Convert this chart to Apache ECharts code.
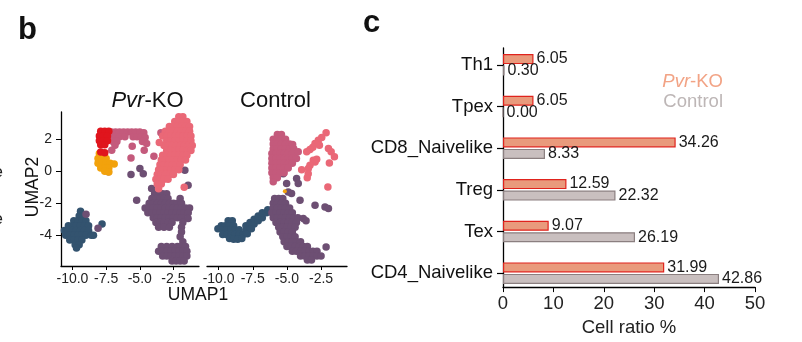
<!DOCTYPE html>
<html><head><meta charset="utf-8">
<script src="https://cdn.jsdelivr.net/npm/echarts@6/dist/echarts.min.js"></script>
<style>html,body{margin:0;padding:0;background:#fff}#c{width:802px;height:342px}</style>
</head><body><div id="c"></div>
<script>
// ---------- Panel c: bar chart data ----------
const categories = ['Th1', 'Tpex', 'CD8_Naivelike', 'Treg', 'Tex', 'CD4_Naivelike'];
const koValues = [6.05, 6.05, 34.26, 12.59, 9.07, 31.99];
const ctrlValues = [0.30, 0.00, 8.33, 22.32, 26.19, 42.86];
const barTicks = [0, 10, 20, 30, 40, 50];

// ---------- Panel b: UMAP tick labels ----------
const umapXTicks = [-10, -7.5, -5, -2.5];
const umapYTicks = [-4, -2, 0, 2];

// ---------- Panel b: Pvr-KO points (UMAP1, UMAP2) ----------
const koBlue = [[-9.4,-2.5],[-9.5,-2.8],[-9.2,-2.8],[-9.9,-3.1],[-9.6,-3.1],[-9.3,-3.1],[-9.0,-3.1],
[-10.3,-3.4],[-10.0,-3.4],[-9.7,-3.4],[-9.4,-3.4],[-9.1,-3.4],[-8.8,-3.4],
[-10.6,-3.7],[-10.3,-3.7],[-10.0,-3.7],[-9.7,-3.7],[-9.4,-3.7],[-9.1,-3.7],[-8.8,-3.7],
[-10.5,-4.0],[-10.2,-4.0],[-9.9,-4.0],[-9.6,-4.0],[-9.3,-4.0],[-9.0,-4.0],[-8.6,-4.0],
[-10.2,-4.3],[-9.9,-4.3],[-9.6,-4.3],[-9.3,-4.3],[-9.8,-4.6],[-9.5,-4.6],[-9.7,-4.8],
[-8.44,-4.0],[-7.8,-3.3]];
const koPurple = [[-3.9,-1.4],[-3.6,-1.4],[-3.3,-1.4],[-3.0,-1.4],
[-4.1,-1.7],[-3.8,-1.7],[-3.5,-1.7],[-3.2,-1.7],[-2.9,-1.7],[-2.0,-1.7],
[-4.3,-2.0],[-4.0,-2.0],[-3.7,-2.0],[-3.4,-2.0],[-3.1,-2.0],[-2.8,-2.0],[-2.5,-2.0],[-2.2,-2.0],[-1.9,-2.0],
[-4.6,-2.3],[-4.3,-2.3],[-4.0,-2.3],[-3.7,-2.3],[-3.4,-2.3],[-3.1,-2.3],[-2.8,-2.3],[-2.5,-2.3],[-2.2,-2.3],[-1.9,-2.3],[-1.6,-2.3],[-1.3,-2.3],
[-4.4,-2.6],[-4.1,-2.6],[-3.8,-2.6],[-3.5,-2.6],[-3.2,-2.6],[-2.9,-2.6],[-2.6,-2.6],[-2.3,-2.6],[-2.0,-2.6],[-1.7,-2.6],[-1.4,-2.6],
[-4.0,-2.9],[-3.7,-2.9],[-3.4,-2.9],[-3.1,-2.9],[-2.8,-2.9],[-2.5,-2.9],[-2.2,-2.9],[-1.9,-2.9],[-1.41,-2.96],
[-3.8,-3.2],[-3.5,-3.2],[-3.2,-3.2],[-2.9,-3.2],[-2.6,-3.2],[-1.8,-3.2],
[-3.6,-3.5],[-3.2,-3.5],[-2.8,-3.5],[-1.9,-3.5],[-1.9,-3.8],[-2.0,-4.1],[-1.8,-4.4],
[-3.4,-4.7],[-3.0,-4.7],[-2.6,-4.7],[-2.2,-4.7],[-1.9,-4.7],[-1.6,-4.7],
[-3.6,-5.0],[-3.3,-5.0],[-3.0,-5.0],[-2.7,-5.0],[-2.4,-5.0],[-2.1,-5.0],[-1.8,-5.0],[-1.5,-5.0],
[-3.3,-5.3],[-3.0,-5.3],[-2.7,-5.3],[-2.4,-5.3],[-2.1,-5.3],[-1.8,-5.3],[-1.5,-5.3],
[-2.6,-5.6],[-2.3,-5.6],[-2.0,-5.6],[-1.7,-5.6],
[-5.23,-1.81],[-4.12,-1.08],[-1.41,-0.87],[-1.65,0.06],[-4.99,0.17],[-4.74,-0.15],[-5.65,-0.2],[-7.33,-0.04],[-8.99,-2.69],[-8.1,-3.56]];
const koMauve = [[-7.1,2.45],[-6.8,2.45],[-6.5,2.45],[-6.2,2.45],[-5.9,2.45],[-5.6,2.45],[-5.3,2.45],[-5.0,2.45],[-4.7,2.4],
[-7.1,2.15],[-6.8,2.15],[-6.5,2.15],[-6.1,2.15],[-5.5,2.15],[-5.2,2.15],[-4.9,2.15],[-4.6,2.1],
[-7.0,1.85],[-6.7,1.85],[-4.8,1.85],
[-6.84,1.62],[-5.56,1.56],[-4.67,1.31],[-5.65,0.83],[-3.95,0.94],[-4.49,1.73],[-3.43,2.4],[-7.08,1.31]];
const koPink = [[-2.1,3.4],[-1.8,3.4],
[-2.4,3.1],[-2.1,3.1],[-1.8,3.1],[-1.5,3.1],
[-2.8,2.8],[-2.5,2.8],[-2.2,2.8],[-1.9,2.8],[-1.6,2.8],[-1.3,2.8],
[-3.1,2.5],[-2.8,2.5],[-2.5,2.5],[-2.2,2.5],[-1.9,2.5],[-1.6,2.5],[-1.3,2.5],
[-3.3,2.2],[-3.0,2.2],[-2.7,2.2],[-2.4,2.2],[-2.1,2.2],[-1.8,2.2],[-1.5,2.2],[-1.2,2.2],
[-3.0,1.9],[-2.7,1.9],[-2.4,1.9],[-2.1,1.9],[-1.8,1.9],[-1.5,1.9],[-1.2,1.9],
[-3.2,1.6],[-2.9,1.6],[-2.6,1.6],[-2.3,1.6],[-2.0,1.6],[-1.7,1.6],[-1.4,1.6],[-1.1,1.6],
[-3.0,1.3],[-2.7,1.3],[-2.4,1.3],[-2.1,1.3],[-1.8,1.3],[-1.5,1.3],[-1.2,1.3],
[-3.3,1.0],[-3.0,1.0],[-2.7,1.0],[-2.4,1.0],[-2.1,1.0],[-1.8,1.0],[-1.5,1.0],
[-3.4,0.7],[-3.1,0.7],[-2.8,0.7],[-2.5,0.7],[-2.2,0.7],[-1.9,0.7],[-1.6,0.7],
[-3.5,0.4],[-3.2,0.4],[-2.9,0.4],[-2.6,0.4],[-2.3,0.4],[-2.0,0.4],
[-3.6,0.1],[-3.3,0.1],[-3.0,0.1],[-2.7,0.1],[-2.4,0.1],[-2.1,0.1],
[-3.7,-0.2],[-3.4,-0.2],[-3.1,-0.2],[-2.8,-0.2],[-2.5,-0.2],
[-3.8,-0.5],[-3.5,-0.5],[-3.2,-0.5],[-2.9,-0.5],[-3.7,-0.8],[-3.4,-0.8],[-3.6,-1.1],
[-3.55,1.8],[-1.7,-1.0]];
const koOrange = [[-8.0,1.1],[-7.7,1.05],[-8.1,0.8],[-7.8,0.8],[-7.5,0.8],[-8.1,0.5],[-7.8,0.5],[-7.5,0.5],[-7.2,0.5],[-6.9,0.45],
[-7.9,0.2],[-7.6,0.2],[-7.3,0.2],[-7.6,0.0],[-7.3,-0.05]];
const koRed = [[-7.9,2.5],[-7.6,2.5],[-7.3,2.5],[-8.0,2.2],[-7.7,2.2],[-7.4,2.2],[-8.0,1.9],[-7.7,1.9],[-7.4,1.9],
[-7.9,1.65],[-7.6,1.65],[-7.9,1.2],[-7.6,1.15]];

// ---------- Panel b: Control points ----------
const ctrlBlue = [[-9.3,-3.1],[-9.0,-3.1],[-9.8,-3.4],[-9.5,-3.4],[-9.2,-3.4],[-8.9,-3.4],
[-10.05,-3.6],[-9.7,-3.65],[-9.4,-3.65],[-9.1,-3.65],[-8.8,-3.65],[-8.5,-3.65],
[-9.7,-3.95],[-9.4,-3.95],[-9.1,-3.95],[-8.8,-3.95],[-8.5,-3.95],[-8.2,-3.95],
[-9.2,-4.2],[-8.9,-4.25],[-8.6,-4.25],[-8.3,-4.2],
[-8.0,-3.7],[-8.0,-3.4],[-7.7,-3.5],[-7.7,-3.2],[-7.4,-3.3],[-7.4,-3.0],[-7.1,-3.1],[-7.1,-2.8],
[-6.8,-2.9],[-6.8,-2.6],[-6.5,-2.6],[-6.4,-2.4],[-7.9,-3.9],[-7.6,-3.6]];
const ctrlPurple = [[-5.27,-0.15],[-4.29,-0.46],[-4.17,-0.77],[-5.02,-0.77],[-4.9,-1.29],[-4.66,-1.39],[-4.04,-1.81],
[-5.9,-1.7],[-5.6,-1.7],[-5.3,-1.7],[-6.0,-2.0],[-5.7,-2.0],[-5.4,-2.0],[-5.1,-2.0],
[-6.0,-2.3],[-5.7,-2.3],[-5.4,-2.3],[-5.1,-2.3],[-4.8,-2.3],
[-6.1,-2.6],[-5.8,-2.6],[-5.5,-2.6],[-5.2,-2.6],[-4.9,-2.6],[-4.6,-2.6],
[-6.0,-2.9],[-5.7,-2.9],[-5.4,-2.9],[-5.1,-2.9],[-4.8,-2.9],[-4.5,-2.9],[-4.2,-2.9],[-3.8,-2.95],
[-5.8,-3.2],[-5.5,-3.2],[-5.2,-3.2],[-4.9,-3.2],[-4.6,-3.2],[-4.3,-3.2],[-3.6,-3.1],
[-5.6,-3.5],[-5.3,-3.5],[-5.0,-3.5],[-4.7,-3.5],[-4.4,-3.5],
[-5.5,-3.8],[-5.2,-3.8],[-4.9,-3.8],[-4.6,-3.8],
[-5.3,-4.1],[-5.0,-4.1],[-4.7,-4.1],[-4.4,-4.1],
[-5.2,-4.4],[-4.9,-4.4],[-4.6,-4.4],[-4.3,-4.4],[-4.0,-4.4],
[-5.0,-4.7],[-4.7,-4.7],[-4.4,-4.7],[-4.1,-4.7],[-3.8,-4.7],[-3.5,-4.7],
[-4.6,-5.0],[-4.3,-5.0],[-4.0,-5.0],[-3.7,-5.0],[-3.4,-5.0],[-3.1,-5.0],[-2.8,-5.0],
[-4.0,-5.3],[-3.7,-5.3],[-3.4,-5.3],[-3.1,-5.3],[-2.8,-5.3],[-2.5,-5.3],
[-3.5,-5.55],[-3.2,-5.55],
[-2.94,-2.13],[-2.21,-2.23],[-1.96,-2.33],[-2.13,-4.73]];
const ctrlMauve = [[-5.7,2.3],[-5.4,2.3],[-6.0,2.0],[-5.7,2.0],[-5.4,2.0],[-5.1,2.0],
[-6.0,1.7],[-5.7,1.7],[-5.4,1.7],[-5.1,1.7],[-4.8,1.7],
[-6.0,1.4],[-5.7,1.4],[-5.4,1.4],[-5.1,1.4],[-4.8,1.4],[-4.5,1.4],
[-6.1,1.1],[-5.8,1.1],[-5.5,1.1],[-5.2,1.1],[-4.9,1.1],[-4.6,1.1],
[-6.1,0.8],[-5.8,0.8],[-5.5,0.8],[-5.2,0.8],[-4.9,0.8],[-4.6,0.8],[-4.3,0.8],
[-6.1,0.5],[-5.8,0.5],[-5.5,0.5],[-5.2,0.5],[-4.9,0.5],[-4.6,0.5],
[-6.1,0.2],[-5.8,0.2],[-5.5,0.2],[-5.2,0.2],[-4.9,0.2],
[-6.1,-0.1],[-5.8,-0.1],[-5.5,-0.1],[-5.2,-0.1],
[-6.0,-0.4],[-5.7,-0.4],[-6.0,-0.65],[-4.17,1.21],[-4.58,1.67]];
const ctrlPink = [[-2.13,2.4],[-2.45,2.1],[-2.7,1.94],[-2.94,1.73],[-2.62,1.62],[-3.1,1.5],[-3.31,1.36],[-3.55,1.21],
[-1.96,1.42],[-1.76,1.21],[-1.52,0.9],[-1.89,0.52],[-2.94,0.58],[-3.07,0.69],[-2.82,0.75],
[-3.31,0.37],[-3.43,0.17],[-3.92,0.1],[-3.44,-0.15],[-3.51,-0.4],[-2.0,-0.98]];
const ctrlOrange = [[-5.15,-1.25]];

// ---------- styling ----------
const COL = {blue:'#33536f', purple:'#6d4f73', mauve:'#c45a7c', pink:'#ea6877', orange:'#f2a20c', red:'#e0151d'};
const FONT = 'Liberation Sans, Arial, sans-serif';
const X_RANGE = [-10.85, -0.6];
const Y_RANGE = [-5.92, 3.7];

function scat(data, color, xi, size) {
  return {type:'scatter', xAxisIndex:xi, yAxisIndex:xi, data:data, symbolSize:size||7.5,
    itemStyle:{color:color, opacity:1}, silent:true, animation:false};
}
function umapX(gi) {
  return {type:'value', gridIndex:gi, min:X_RANGE[0], max:X_RANGE[1], splitLine:{show:false},
    axisLine:{show:true, onZero:false, lineStyle:{color:'#000', width:1.3}},
    axisTick:{show:true, length:4, customValues:umapXTicks, lineStyle:{color:'#000'}},
    axisLabel:{customValues:umapXTicks, formatter:v=>Number(v).toFixed(1), fontSize:14, color:'#222', fontFamily:FONT, margin:6}};
}

const chart = echarts.init(document.getElementById('c'), null, {renderer:'canvas'});
chart.setOption({
  animation:false,
  backgroundColor:'#fff',
  grid:[
    {left:61, top:112, width:138, height:154},
    {left:207, top:112, width:140, height:154},
    {left:503, top:44, width:252, height:250},
    {left:503, top:48, width:252, height:242}
  ],
  xAxis:[
    umapX(0), umapX(1),
    {type:'value', gridIndex:2, min:0, max:50, show:false},
    {type:'value', gridIndex:3, min:0, max:50, interval:10, splitLine:{show:false},
      axisLine:{show:true, onZero:false, lineStyle:{color:'#000', width:1.3}},
      axisTick:{show:true, length:5, lineStyle:{color:'#000'}},
      axisLabel:{fontSize:18.5, color:'#222', fontFamily:FONT, margin:7,
        customValues:barTicks},
      name:'Cell ratio %', nameLocation:'middle', nameGap:27,
      nameTextStyle:{fontSize:18.5, color:'#222', fontFamily:FONT}}
  ],
  yAxis:[
    {type:'value', gridIndex:0, min:Y_RANGE[0], max:Y_RANGE[1], splitLine:{show:false},
      axisLine:{show:true, onZero:false, lineStyle:{color:'#000', width:1.3}},
      axisTick:{show:true, length:5, customValues:umapYTicks, lineStyle:{color:'#000'}},
      axisLabel:{customValues:umapYTicks, fontSize:14, color:'#222', fontFamily:FONT, margin:9}},
    {type:'value', gridIndex:1, min:Y_RANGE[0], max:Y_RANGE[1], show:false},
    {type:'category', gridIndex:2, data:categories, inverse:true,
      axisLine:{show:false},
      axisTick:{show:true, alignWithLabel:true, length:6, lineStyle:{color:'#000', width:1.2}},
      axisLabel:{fontSize:18.5, color:'#111', fontFamily:FONT, margin:10}},
    {type:'value', gridIndex:3, min:0, max:1, splitLine:{show:false},
      axisLine:{show:true, onZero:false, lineStyle:{color:'#000', width:1.3}},
      axisTick:{show:false}, axisLabel:{show:false}}
  ],
  series:[
    scat(koBlue, COL.blue, 0), scat(koPurple, COL.purple, 0), scat(koMauve, COL.mauve, 0),
    scat(koPink, COL.pink, 0), scat(koOrange, COL.orange, 0), scat(koRed, COL.red, 0),
    scat(ctrlBlue, COL.blue, 1), scat(ctrlPurple, COL.purple, 1), scat(ctrlMauve, COL.mauve, 1),
    scat(ctrlPink, COL.pink, 1), scat(ctrlOrange, COL.orange, 1, 4),
    {type:'bar', name:'Pvr-KO', xAxisIndex:2, yAxisIndex:2, data:koValues, barWidth:10, barGap:'15%',
      itemStyle:{color:'#e99a7c', borderColor:'#e0231d', borderWidth:1.2},
      label:{show:true, position:'right', distance:3, formatter:p=>Number(p.value).toFixed(2),
        fontSize:16, color:'#1a1a1a', fontFamily:FONT}},
    {type:'bar', name:'Control', xAxisIndex:2, yAxisIndex:2, data:ctrlValues, barWidth:10, barGap:'15%',
      itemStyle:{color:'#c9bfbf', borderColor:'#8b7f80', borderWidth:1.2},
      label:{show:true, position:'right', distance:3, formatter:p=>Number(p.value).toFixed(2),
        fontSize:16, color:'#1a1a1a', fontFamily:FONT}}
  ],
  graphic:[
    {type:'text', left:18, top:15, style:{text:'b', font:'bold 31px '+FONT, fill:'#111'}},
    {type:'text', left:363, top:8, style:{text:'c', font:'bold 31px '+FONT, fill:'#111'}},
    {type:'text', x:-6.5, y:172, style:{text:'e', font:'17px '+FONT, fill:'#222', verticalAlign:'middle'}},
    {type:'text', x:-6.5, y:219, style:{text:'e', font:'17px '+FONT, fill:'#222', verticalAlign:'middle'}},
    {type:'text', x:147.5, y:101, style:{text:'{i|Pvr}-KO', align:'center', verticalAlign:'middle',
      font:'22px '+FONT, fill:'#111', rich:{i:{fontStyle:'italic', fontSize:22, fontFamily:FONT, fill:'#111'}}}},
    {type:'text', x:275.5, y:101, style:{text:'Control', align:'center', verticalAlign:'middle', font:'22px '+FONT, fill:'#111'}},
    {type:'text', x:33, y:187, rotation:Math.PI/2, style:{text:'UMAP2', align:'center', verticalAlign:'middle', font:'17.5px '+FONT, fill:'#111'}},
    {type:'text', x:198, y:295, style:{text:'UMAP1', align:'center', verticalAlign:'middle', font:'17.5px '+FONT, fill:'#111'}},
    {type:'text', x:723, y:82, style:{text:'{i|Pvr}-KO', align:'right', verticalAlign:'middle',
      font:'18.5px '+FONT, fill:'#f2a385', rich:{i:{fontStyle:'italic', fontSize:18.5, fontFamily:FONT, fill:'#f2a385'}}}},
    {type:'text', x:723, y:101.5, style:{text:'Control', align:'right', verticalAlign:'middle', font:'18.5px '+FONT, fill:'#bdb6b6'}}
  ]
});
</script></body></html>
